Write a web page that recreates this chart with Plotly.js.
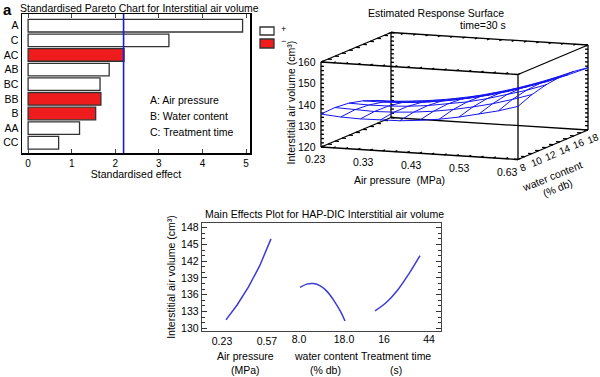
<!DOCTYPE html>
<html>
<head>
<meta charset="utf-8">
<script src="https://cdn.plot.ly/plotly-3.0.1.min.js"></script>
<style>
  html, body { margin: 0; padding: 0; background: #fff; }
  #chart { width: 600px; height: 377px; }
</style>
</head>
<body>
<div id="chart"></div>
<script>
// ---------- Pareto chart data ----------
const paretoTerms   = ['A', 'C', 'AC', 'AB', 'BC', 'BB', 'B', 'AA', 'CC'];
const paretoEffects = [4.92, 3.23, 2.20, 1.86, 1.65, 1.67, 1.55, 1.18, 0.70];
const paretoSigns   = ['+', '+', '-', '+', '+', '-', '-', '+', '+'];
const criticalEffect = 2.19;
const factorNotes = ['A: Air pressure', 'B: Water content', 'C: Treatment time'];
const paretoTicks = [0, 1, 2, 3, 4, 5];
const legendLabels = ['+', '\u2212'];

// ---------- Response surface data (time = 30 s) ----------
const pressureGrid = [0.23, 0.27, 0.31, 0.35, 0.39, 0.43, 0.47, 0.51, 0.55, 0.59, 0.63];
const waterGrid = [8, 10, 12, 14, 16, 18];
const volumeGrid = [
  [135.5, 134.7, 134.4, 134.4, 134.7, 135.5, 136.6, 138.2, 140.1, 142.3, 145.0],
  [135.8, 135.3, 135.1, 135.4, 136.0, 137.0, 138.4, 140.2, 142.3, 144.9, 147.8],
  [135.1, 134.8, 134.9, 135.4, 136.3, 137.6, 139.2, 141.3, 143.7, 146.4, 149.6],
  [133.4, 133.4, 133.8, 134.5, 135.7, 137.2, 139.1, 141.4, 144.0, 147.0, 150.5],
  [130.8, 131.0, 131.7, 132.7, 134.1, 135.8, 138.0, 140.5, 143.4, 146.7, 150.4],
  [127.2, 127.7, 128.6, 129.8, 131.5, 133.5, 135.9, 138.7, 141.8, 145.4, 149.3]
];
const pressureRange = [0.23, 0.63];
const waterRange = [8, 18];
const volumeRange = [120, 160];
const pressureTicks = [0.23, 0.33, 0.43, 0.53, 0.63];
const pressureTickText = ['0.23', '0.33', '0.43', '0.53', '0.63'];
const waterTicks = [8, 10, 12, 14, 16, 18];
const volumeTicks3d = [160, 150, 140, 130, 120];

// ---------- Main effects data ----------
const airLevels   = [0.23, 0.315, 0.40, 0.485, 0.57];
const airEffect   = [131.5, 134.2, 137.4, 141.2, 146.0];
const waterLevels = [8, 9.5, 11, 12.5, 14, 15.5, 17, 18];
const waterEffect = [137.3, 137.9, 138.0, 137.6, 136.6, 135.0, 133.0, 131.3];
const timeLevels  = [16, 23, 30, 37, 44];
const timeEffect  = [133.1, 134.6, 136.8, 139.7, 143.0];
const effectTicks = [130, 133, 136, 139, 142, 145, 148];
const factorTitles = [['Air pressure', '(MPa)'], ['water content', '(% db)'], ['Treatment time', '(s)']];
const volumeTitle = 'Interstitial air volume (cm\u00b3)';

const FONT = 'Arial, "Liberation Sans", sans-serif';
const RED = '#ee1c1c';
const BLUE3D = '#1414ee';
const BLUE = '#3b3bd6';

const px = v => v / 600, py = v => 1 - v / 377;

// ---------- Pareto traces ----------
const posIdx = paretoSigns.map((s, i) => s === '+' ? i : -1).filter(i => i >= 0);
const negIdx = paretoSigns.map((s, i) => s === '-' ? i : -1).filter(i => i >= 0);
const barPos = {
  type: 'bar', orientation: 'h', name: legendLabels[0],
  x: posIdx.map(i => paretoEffects[i]), y: posIdx.map(i => paretoTerms[i]),
  marker: { color: '#ffffff', line: { color: '#333333', width: 1.3 } },
  width: 0.86, xaxis: 'x', yaxis: 'y'
};
const barNeg = {
  type: 'bar', orientation: 'h', name: legendLabels[1],
  x: negIdx.map(i => paretoEffects[i]), y: negIdx.map(i => paretoTerms[i]),
  marker: { color: RED, line: { color: '#333333', width: 1.3 } },
  width: 0.86, xaxis: 'x', yaxis: 'y'
};

// ---------- Oblique 3-D projection onto a bare 2-D axis pair (x5/y5, pixel units) ----------
const ORIGIN = [321, 147], VX = [197, 12.5], VY = [70, -29.5], VZ = [0, -85];
function proj(p, w, v) {
  const X = (p - pressureRange[0]) / (pressureRange[1] - pressureRange[0]);
  const Y = (w - waterRange[0]) / (waterRange[1] - waterRange[0]);
  const Z = (v - volumeRange[0]) / (volumeRange[1] - volumeRange[0]);
  return [ORIGIN[0] + VX[0] * X + VY[0] * Y + VZ[0] * Z,
          ORIGIN[1] + VX[1] * X + VY[1] * Y + VZ[1] * Z];
}
function pushSeg(arrX, arrY, pts) {
  pts.forEach(q => { const s = proj(q[0], q[1], q[2]); arrX.push(s[0]); arrY.push(s[1]); });
  arrX.push(null); arrY.push(null);
}

const [p0, p1] = pressureRange, [w0, w1] = waterRange, [v0, v1] = volumeRange;
const bx = [], by = [];
[[p0, w0], [p1, w0], [p0, w1], [p1, w1]].forEach(c => pushSeg(bx, by, [[c[0], c[1], v0], [c[0], c[1], v1]]));
[[w0, v0], [w1, v0], [w0, v1], [w1, v1]].forEach(c => pushSeg(bx, by, [[p0, c[0], c[1]], [p1, c[0], c[1]]]));
[[p0, v0], [p1, v0], [p0, v1], [p1, v1]].forEach(c => pushSeg(bx, by, [[c[0], w0, c[1]], [c[0], w1, c[1]]]));
for (let v = v0; v <= v1 + 1e-9; v += 2) {
  pushSeg(bx, by, [[p0, w0, v], [p0 + 0.006, w0, v]]);
  pushSeg(bx, by, [[p0, w1, v], [p0 + 0.006, w1, v]]);
  pushSeg(bx, by, [[p1, w1, v], [p1 - 0.006, w1, v]]);
}
for (let p = p0; p <= p1 + 1e-9; p += 0.025) {
  pushSeg(bx, by, [[p, w0, v0], [p, w0 + 0.35, v0]]);
  pushSeg(bx, by, [[p, w0, v1], [p, w0 + 0.35, v1]]);
  pushSeg(bx, by, [[p, w1, v1], [p, w1 - 0.35, v1]]);
}
for (let w = w0; w <= w1 + 1e-9; w += 1) {
  pushSeg(bx, by, [[p1, w, v0], [p1 - 0.008, w, v0]]);
  pushSeg(bx, by, [[p0, w, v0], [p0 + 0.008, w, v0]]);
  pushSeg(bx, by, [[p0, w, v1], [p0 + 0.008, w, v1]]);
}
const boxTrace = { type: 'scatter', mode: 'lines', x: bx, y: by, xaxis: 'x5', yaxis: 'y5',
  line: { color: '#000', width: 1.3 }, connectgaps: false, showlegend: false, hoverinfo: 'skip' };

const sx = [], sy = [];
waterGrid.forEach((w, r) => pushSeg(sx, sy, pressureGrid.map((p, c) => [p, w, volumeGrid[r][c]])));
pressureGrid.forEach((p, c) => pushSeg(sx, sy, waterGrid.map((w, r) => [p, w, volumeGrid[r][c]])));
const wireTrace = { type: 'scatter', mode: 'lines', x: sx, y: sy, xaxis: 'x5', yaxis: 'y5',
  line: { color: BLUE3D, width: 1 }, connectgaps: false, showlegend: false, hoverinfo: 'skip' };

// ---------- Main effects traces ----------
const effAir = { type: 'scatter', mode: 'lines', x: airLevels, y: airEffect,
  xaxis: 'x2', yaxis: 'y2', line: { color: BLUE, width: 1.5 }, showlegend: false };
const effWater = { type: 'scatter', mode: 'lines', x: waterLevels, y: waterEffect,
  xaxis: 'x3', yaxis: 'y2', line: { color: BLUE, width: 1.5, shape: 'spline' }, showlegend: false };
const effTime = { type: 'scatter', mode: 'lines', x: timeLevels, y: timeEffect,
  xaxis: 'x4', yaxis: 'y2', line: { color: BLUE, width: 1.5, shape: 'spline' }, showlegend: false };

// ---------- 3-D labels as annotations ----------
const ann3d = [];
volumeTicks3d.forEach(v => { const s = proj(p0, w0, v);
  ann3d.push({ text: String(v), x: s[0] - 3, y: s[1], xref: 'x5', yref: 'y5', xanchor: 'right', yanchor: 'middle',
    showarrow: false, font: { size: 10.5 } }); });
pressureTicks.forEach((p, i) => { const s = proj(p, w0, v0);
  const frac = (p - p0) / (p1 - p0);
  ann3d.push({ text: pressureTickText[i], x: s[0] - 6 - 5 * frac, y: s[1] + 12, xref: 'x5', yref: 'y5',
    xanchor: 'center', yanchor: 'middle', showarrow: false, font: { size: 10.5 } }); });
waterTicks.forEach(w => { const s = proj(p1, w, v0);
  ann3d.push({ text: String(w), x: s[0] + 5, y: s[1] + 8, xref: 'x5', yref: 'y5', xanchor: 'center', yanchor: 'middle',
    textangle: -22, showarrow: false, font: { size: 10 } }); });
{
  const s = proj((p0 + p1) / 2, w0, v0);
  ann3d.push({ text: 'Air pressure  (MPa)', x: s[0] - 20, y: s[1] + 27, xref: 'x5', yref: 'y5',
    xanchor: 'center', yanchor: 'middle', showarrow: false, font: { size: 10.5 } });
  const t = proj(p1, (w0 + w1) / 2, v0);
  ann3d.push({ text: 'water content', x: t[0] - 1, y: t[1] + 31, xref: 'x5', yref: 'y5',
    xanchor: 'center', yanchor: 'middle', textangle: -22, showarrow: false, font: { size: 10.5 } });
  ann3d.push({ text: '(% db)', x: t[0] + 4, y: t[1] + 43, xref: 'x5', yref: 'y5',
    xanchor: 'center', yanchor: 'middle', textangle: -22, showarrow: false, font: { size: 10.5 } });
  const u = proj(p0, w0, (v0 + v1) / 2);
  ann3d.push({ text: volumeTitle, x: u[0] - 31, y: u[1] - 2, xref: 'x5', yref: 'y5',
    xanchor: 'center', yanchor: 'middle', textangle: -90, showarrow: false, font: { size: 10.5 } });
}

// ---------- Main-effects factor titles ----------
const levelsAll = [airLevels, waterLevels, timeLevels];
const factorAxes = ['x2', 'x3', 'x4'];
const factorTitleShift = [-3, 3, -2];
const annFactors = [];
factorTitles.forEach((lines, k) => {
  const lv = levelsAll[k];
  const mid = (lv[0] + lv[lv.length - 1]) / 2;
  lines.forEach((txt, j) => annFactors.push({ text: txt, x: mid, xref: factorAxes[k], y: py(356 + 14 * j), yref: 'paper',
    xshift: factorTitleShift[k], xanchor: 'center', yanchor: 'middle', showarrow: false, font: { size: 10.5 } }));
});

// ---------- Layout ----------
const bare = { showticklabels: false, showline: false, ticks: '', showgrid: false, zeroline: false, fixedrange: true };
const layout = {
  width: 600, height: 377,
  margin: { l: 0, r: 0, t: 0, b: 0 },
  paper_bgcolor: '#fff', plot_bgcolor: 'rgba(0,0,0,0)',
  font: { family: FONT, size: 10, color: '#000' },
  barmode: 'overlay',
  showlegend: false,
  // Pareto axes
  xaxis: { domain: [px(22), px(250)], range: [-0.14, 5.09], tickvals: paretoTicks,
    ticks: 'inside', ticklen: 4, showline: true, mirror: 'ticks', linecolor: '#000', linewidth: 1.5,
    showgrid: false, zeroline: false, tickfont: { size: 10 },
    title: { text: 'Standardised effect', font: { size: 10.5 }, standoff: 2 }, anchor: 'y' },
  yaxis: { domain: [py(153), py(14)], type: 'category', categoryorder: 'array', categoryarray: paretoTerms,
    range: [8.7, -0.8], showline: true, mirror: true, linecolor: '#000', linewidth: 1.5,
    showgrid: false, zeroline: false, ticks: '', tickfont: { size: 10.5 }, anchor: 'x' },
  // Main effects: one frame, three overlaid factor scales
  xaxis2: { domain: [px(202), px(441)], range: [0.0487, 1.8545], anchor: 'y2',
    tickvals: [airLevels[0], airLevels[airLevels.length - 1]], ticktext: ['0.23', '0.57'], ticklabelshift: -4,
    showline: true, mirror: true, linecolor: '#444', linewidth: 1.3, ticks: '', showgrid: false, zeroline: false,
    tickfont: { size: 10.5 } },
  xaxis3: { overlaying: 'x2', anchor: 'y2', range: [-13.778, 39.333],
    tickvals: [waterLevels[0], waterLevels[waterLevels.length - 1]], ticktext: ['8.0', '18.0'], ticklabelshift: -1,
    showline: false, ticks: '', showgrid: false, zeroline: false, tickfont: { size: 10.5 } },
  xaxis4: { overlaying: 'x2', anchor: 'y2', range: [-91.65, 57.07],
    tickvals: [timeLevels[0], timeLevels[timeLevels.length - 1]], ticktext: ['16', '44'], ticklabelshift: 9,
    showline: false, ticks: '', showgrid: false, zeroline: false, tickfont: { size: 10.5 } },
  yaxis2: { domain: [py(331), py(223)], range: [129.5, 148.85], anchor: 'x2', tickvals: effectTicks,
    showline: true, mirror: 'ticks', linecolor: '#444', linewidth: 1.3, ticks: 'inside', ticklen: 5, tickcolor: '#333',
    minor: { dtick: 1, ticks: 'inside', ticklen: 3, tickcolor: '#333' },
    showgrid: false, zeroline: false, tickfont: { size: 10.5 },
    title: { text: volumeTitle, font: { size: 10.5 }, standoff: 3 } },
  // bare pixel-unit axes for the projected response surface
  xaxis5: Object.assign({ domain: [0, 1], range: [0, 600], anchor: 'y5' }, bare),
  yaxis5: Object.assign({ domain: [0, 1], range: [377, 0], anchor: 'x5' }, bare),
  shapes: [
    { type: 'line', xref: 'x', yref: 'y domain', x0: criticalEffect, x1: criticalEffect, y0: 0, y1: 1,
      line: { color: '#1a1adf', width: 1.6 } },
    { type: 'rect', xref: 'paper', yref: 'paper', x0: px(260), x1: px(274), y0: py(35), y1: py(27),
      fillcolor: '#fff', line: { color: '#333', width: 1.3 } },
    { type: 'rect', xref: 'paper', yref: 'paper', x0: px(260), x1: px(274), y0: py(48), y1: py(39),
      fillcolor: RED, line: { color: '#333', width: 1.3 } }
  ],
  annotations: [
    { text: 'a', x: px(1), y: py(-1), xref: 'paper', yref: 'paper', xanchor: 'left', yanchor: 'top',
      showarrow: false, font: { size: 15, weight: 'bold' } },
    { text: 'Standardised Pareto Chart for Interstitial air volume', x: px(18), y: py(0), xref: 'paper', yref: 'paper',
      xanchor: 'left', yanchor: 'top', showarrow: false, font: { size: 10.5 } },
    { text: legendLabels[0], x: px(279), y: py(29), xref: 'paper', yref: 'paper', xanchor: 'left', yanchor: 'middle',
      showarrow: false, font: { size: 9 } },
    { text: legendLabels[1], x: px(279), y: py(41), xref: 'paper', yref: 'paper', xanchor: 'left', yanchor: 'middle',
      showarrow: false, font: { size: 9 } },
    ...factorNotes.map((t, i) => ({ text: t, x: px(148), y: py(100 + 16 * i), xref: 'paper', yref: 'paper',
      xanchor: 'left', yanchor: 'middle', showarrow: false, font: { size: 10.5 } })),
    { text: 'Estimated Response Surface', x: px(436), y: py(13), xref: 'paper', yref: 'paper',
      xanchor: 'center', yanchor: 'middle', showarrow: false, font: { size: 10.5 } },
    { text: 'time=30 s', x: px(483), y: py(25), xref: 'paper', yref: 'paper',
      xanchor: 'center', yanchor: 'middle', showarrow: false, font: { size: 10.5 } },
    { text: 'Main Effects Plot for HAP-DIC Interstitial air volume', x: px(203), y: py(214), xref: 'paper', yref: 'paper',
      xanchor: 'left', yanchor: 'middle', showarrow: false, font: { size: 10.5 } },
    ...annFactors,
    ...ann3d
  ]
};

Plotly.newPlot('chart', [barPos, barNeg, boxTrace, wireTrace, effAir, effWater, effTime], layout,
  { displayModeBar: false, staticPlot: true });
</script>
</body>
</html>
